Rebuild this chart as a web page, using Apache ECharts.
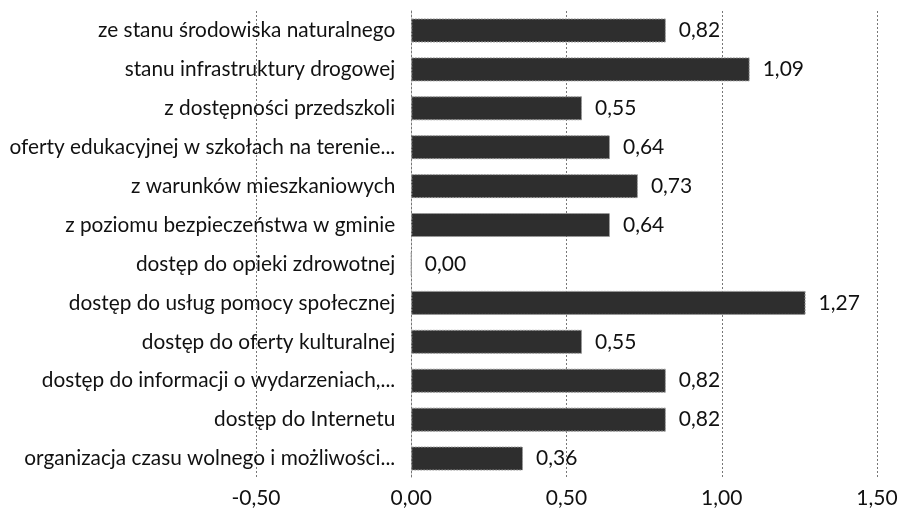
<!DOCTYPE html>
<html><head><meta charset="utf-8">
<script src="https://cdn.jsdelivr.net/npm/echarts@6/dist/echarts.min.js"></script>
<style>html,body{margin:0;padding:0;background:#fff}#c{width:899px;height:513px}</style>
</head><body><div id="c"></div>
<script>
const categories = [
  'ze stanu środowiska naturalnego',
  'stanu infrastruktury drogowej',
  'z dostępności przedszkoli',
  'oferty edukacyjnej w szkołach na terenie...',
  'z warunków mieszkaniowych',
  'z poziomu bezpieczeństwa w gminie',
  'dostęp do opieki zdrowotnej',
  'dostęp do usług pomocy społecznej',
  'dostęp do oferty kulturalnej',
  'dostęp do informacji o wydarzeniach,...',
  'dostęp do Internetu',
  'organizacja czasu wolnego i możliwości...'
];
const values = [0.82, 1.09, 0.55, 0.64, 0.73, 0.64, 0.00, 1.27, 0.55, 0.82, 0.82, 0.36];
const xMin = -0.5, xMax = 1.5, xStep = 0.5;

const fmt = v => Number(v).toFixed(2).replace('.', ',');
const gridLeft = 256, gridRight = 22;
const plotW = 899 - gridLeft - gridRight;
const zeroX = gridLeft + plotW * (0 - xMin) / (xMax - xMin);
const chart = echarts.init(document.getElementById('c'));
chart.setOption({
  animation: false,
  textStyle: { fontFamily: 'Lato' },
  grid: { left: gridLeft, right: gridRight, top: 11, bottom: 35, containLabel: false, outerBoundsMode: 'none' },
  xAxis: {
    type: 'value', min: xMin, max: xMax, interval: xStep,
    axisLine: { show: false }, axisTick: { show: false },
    splitLine: { show: true, lineStyle: { color: '#777', type: [2, 2], width: 1 } },
    axisLabel: { formatter: fmt, color: '#111', fontSize: 21, margin: 10 }
  },
  yAxis: {
    type: 'category', data: categories, inverse: true,
    axisLine: { show: true, onZero: true, lineStyle: { color: '#777', type: [2, 2] } },
    axisTick: { show: false },
    axisLabel: { color: '#111', fontSize: 20.8, margin: -(zeroX - gridLeft) + 16 }
  },
  series: [{
    type: 'bar', data: values, barWidth: 24,
    itemStyle: { color: '#2e2e2e', borderColor: '#9a9a9a', borderWidth: 1, borderType: [2, 1] },
    label: { show: true, position: 'right', distance: 13, formatter: p => fmt(p.value), color: '#111', fontSize: 21 }
  }]
});
</script></body></html>
